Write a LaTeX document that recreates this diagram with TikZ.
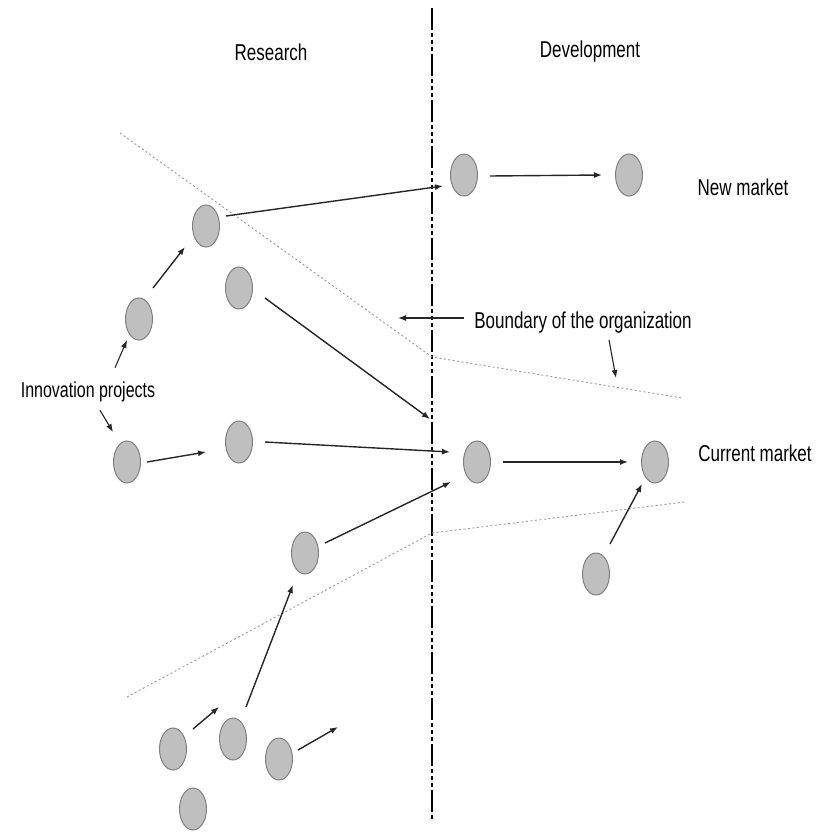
\documentclass[tikz,border=0pt]{standalone}
\usepackage{fontspec}
\setmainfont{Liberation Sans}
\usepackage{graphicx}
\usetikzlibrary{shapes.geometric,arrows.meta,calc}
\newcommand{\lbl}[1]{\scalebox{1}[1.35]{#1}}
\begin{document}
\begin{tikzpicture}[x=1pt,y=-1pt,
  proj/.style={ellipse,draw=gray,line width=1pt,fill=gray!50,minimum width=27pt,minimum height=42pt,inner sep=0pt},
  arr/.style={line width=1.4pt,draw=black!85,-{Latex[length=8pt,width=6pt]}},
  bound/.style={line width=0.9pt,draw=gray!80,dash pattern=on 2pt off 2.5pt},
  divider/.style={line width=1.6pt,draw=black,dash pattern=on 22pt off 3pt on 4pt off 3pt on 4pt off 3pt on 4pt off 3pt},
  txt/.style={font=\fontsize{17}{20}\selectfont,inner sep=0pt}]
\useasboundingbox (0,0) rectangle (823,832);

% divider
\coordinate (dtop) at (432,8);
\coordinate (dbot) at (432,820);
\draw[divider] (dtop) -- (dbot);

% boundary lines
\coordinate (ua) at (120,133);
\coordinate (ub) at (432,357);
\coordinate (uc) at (682,398);
\coordinate (la) at (127,697);
\coordinate (lb) at (432,533);
\coordinate (lc) at (685,502);
\draw[bound] (ua) -- (ub) -- (uc);
\draw[bound] (la) -- (lb) -- (lc);

% labels
\node[txt] (research) at (271,52) {\lbl{Research}};
\node[txt] (devel) at (590,52) {\lbl{Development}};
\node[txt] (newm) at (743,187) {\lbl{New market}};
\node[txt] (curm) at (755,453) {\lbl{Current market}};
\node[txt] (bnd) at (583,323) {\lbl{Boundary of the organization}};
\node[txt,font=\fontsize{16}{19}\selectfont] (innov) at (88,392) {\lbl{Innovation projects}};

% project nodes
\node[proj] (n1) at (206,226) {};
\node[proj] (n2) at (239,288) {};
\node[proj] (n3) at (139,319) {};
\node[proj] (n4) at (127,462) {};
\node[proj] (n5) at (239,442) {};
\node[proj] (n6) at (305,553) {};
\node[proj] (n7) at (173,749) {};
\node[proj] (n8) at (233,739) {};
\node[proj] (n9) at (279,759) {};
\node[proj] (n10) at (193,809) {};
\node[proj] (n11) at (477,462) {};
\node[proj] (n12) at (655,462) {};
\node[proj] (n13) at (596,574) {};
\node[proj] (n14) at (464,175) {};
\node[proj] (n15) at (629,175) {};

% connectors
\draw[arr] ($(n1)+(20,-10)$) -- ($(n14)+(-21,11)$);
\draw[arr] ($(n14)+(26,1)$) -- ($(n15)+(-27,0)$);
\draw[arr] ($(n2)+(26,10)$) -- ($(n11)+(-47,-43)$);
\draw[arr] ($(n3)+(14,-31)$) -- ($(n1)+(-21,21)$);
\draw[arr] ($(n4)+(20,0)$) -- ($(n5)+(-33,10)$);
\draw[arr] ($(n5)+(26,0)$) -- ($(n11)+(-27,-10)$);
\draw[arr] ($(n6)+(20,-10)$) -- ($(n11)+(-26,20)$);
\draw[arr] ($(n8)+(13,-32)$) -- ($(n6)+(-12,32)$);
\draw[arr] ($(n7)+(20,-20)$) -- ($(n8)+(-14,-32)$);
\coordinate (n9end) at (338,727);
\draw[arr] ($(n9)+(19,-9)$) -- (n9end);
\draw[arr] ($(n11)+(26,0)$) -- ($(n12)+(-27,0)$);
\draw[arr] ($(n13)+(14,-30)$) -- ($(n12)+(-13,22)$);

% label pointers
\coordinate (bndtip) at (398,318);
\draw[arr,line width=1.2pt] ($(bnd.west)+(-10,-5)$) -- (bndtip);
\coordinate (bndtip2) at (616,378);
\draw[arr,line width=1.1pt] ($(bnd.south)+(26,6)$) -- (bndtip2);
\draw[arr,line width=1.1pt] ($(innov.north)+(27,-14)$) -- ($(n3)+(-12,21)$);
\draw[arr,line width=1.1pt] ($(innov.south)+(12,8)$) -- ($(n4)+(-14,-30)$);
\end{tikzpicture}
\end{document}
